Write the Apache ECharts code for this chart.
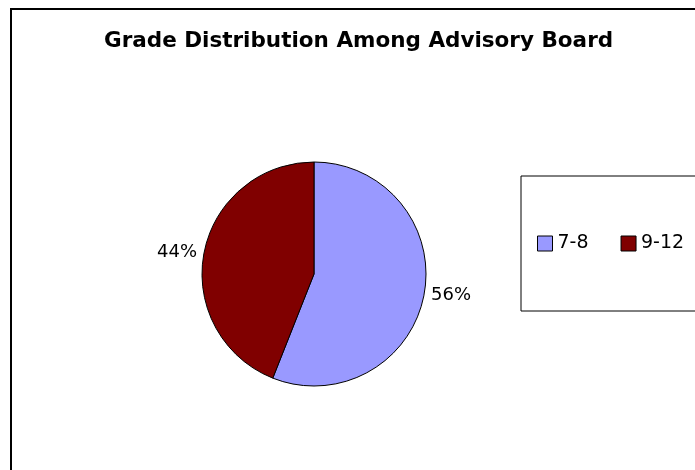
<!DOCTYPE html>
<html>
<head>
<meta charset="utf-8">
<style>
  html, body { margin: 0; padding: 0; background: #fff; }
  #chart { width: 695px; height: 470px; }
</style>
<script src="https://cdn.jsdelivr.net/npm/echarts@6/dist/echarts.min.js"></script>
</head>
<body>
<div id="chart"></div>
<script>
const grades = ['7-8', '9-12'];
const shares = [56, 44];
const sliceColors = ['#9999FF', '#800000'];

const chart = echarts.init(document.getElementById('chart'));

const font = 'DejaVu Sans, Arial, sans-serif';

const option = {
  backgroundColor: '#fff',
  animation: false,
  title: {
    text: 'Grade Distribution Among Advisory Board',
    left: 104,
    top: 30,
    padding: 0,
    textStyle: {
      fontFamily: font,
      fontSize: 21.5,
      fontWeight: 'bold',
      color: '#000',
    },
  },
  legend: {
    data: grades,
    orient: 'horizontal',
    left: 521,
    top: 176,
    width: 300,
    padding: [58, 80, 58, 16],
    itemGap: 32,
    itemWidth: 15,
    itemHeight: 15,
    borderColor: '#000',
    borderWidth: 1,
    icon: 'rect',
    itemStyle: { borderColor: '#000', borderWidth: 1 },
    textStyle: {
      fontFamily: font,
      fontSize: 19,
      color: '#000',
    },
  },
  graphic: [
    {
      type: 'rect',
      shape: { x: 11, y: 9, width: 720, height: 500 },
      style: { fill: 'none', stroke: '#000', lineWidth: 2 },
      silent: true,
    },
  ],
  series: [
    {
      type: 'pie',
      center: [314, 274],
      radius: 112,
      startAngle: 90,
      clockwise: true,
      color: sliceColors,
      itemStyle: { borderColor: '#000', borderWidth: 1 },
      label: {
        show: true,
        position: 'outside',
        formatter: '{c}%',
        fontFamily: font,
        fontSize: 18,
        color: '#000',
      },
      labelLine: { show: false, length: 1, length2: 1 },
      emphasis: { disabled: true },
      data: grades.map((g, i) => ({ name: g, value: shares[i] })),
    },
  ],
};

chart.setOption(option);
</script>
</body>
</html>
